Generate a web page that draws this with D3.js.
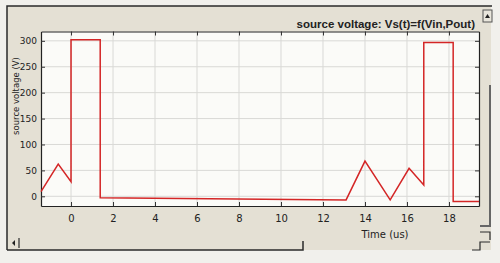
<!DOCTYPE html>
<html><head><meta charset="utf-8">
<script src="https://cdn.jsdelivr.net/npm/d3@7"></script>
<style>html,body{margin:0;padding:0;background:#ecebe6;}svg{display:block;}</style>
</head><body>
<script>
// Data
const timeUs  = [-1.43, -0.61, 0, 0, 1.39, 1.39, 13.1, 14.0, 15.2, 16.1, 16.8, 16.8, 18.2, 18.2, 19.43];
const voltage = [9, 62, 28, 302, 302, -3, -7, 68, -7, 54, 22, 297, 297, -10, -10];
const xTicks = [0, 2, 4, 6, 8, 10, 12, 14, 16, 18];
const yTicks = [0, 50, 100, 150, 200, 250, 300];
const titleText = "source  voltage: Vs(t)=f(Vin,Pout)";
const xLabel = "Time  (us)";
const yLabel = "source voltage  (V)";

(function(){
const W = 500, H = 263;
const svg = d3.select("body").append("svg").attr("width", W).attr("height", H);

// window background
svg.append("rect").attr("width", W).attr("height", H).attr("fill", "#f1f0ec");
svg.append("rect").attr("x", 7).attr("y", 6).attr("width", 484).attr("height", 244).attr("fill", "#e4e0d4");

const pL = 41, pR = 479, pT = 31.5, pB = 206;
const x = d3.scaleLinear().domain([-1.43, 19.43]).range([pL, pR]);
const y = d3.scaleLinear().domain([-18.7, 318]).range([pB, pT]);

// plot area
svg.append("rect").attr("x", pL).attr("y", pT).attr("width", pR - pL).attr("height", pB - pT).attr("fill", "#fbfbf8");

// grid
const g = svg.append("g");
g.selectAll(".vg").data(xTicks).join("line")
  .attr("x1", d => x(d)).attr("x2", d => x(d)).attr("y1", pT).attr("y2", pB)
  .attr("stroke", "#d9d9d6").attr("stroke-width", 1);
g.selectAll(".hg").data(yTicks).join("line")
  .attr("x1", pL).attr("x2", pR).attr("y1", d => y(d)).attr("y2", d => y(d))
  .attr("stroke", "#d9d9d6").attr("stroke-width", 1);

// axes
const axB = d3.axisBottom(x).tickValues(xTicks).tickSizeInner(-4).tickSizeOuter(0).tickPadding(9).tickFormat(d3.format("d"));
const axT = d3.axisTop(x).tickValues(xTicks).tickSizeInner(-4).tickSizeOuter(0).tickFormat("");
const axL = d3.axisLeft(y).tickValues(yTicks).tickSizeInner(-4).tickSizeOuter(0).tickPadding(4).tickFormat(d3.format("d"));
const axR = d3.axisRight(y).tickValues(yTicks).tickSizeInner(-4).tickSizeOuter(0).tickFormat("");

function style(sel, fs){
  sel.selectAll("path").attr("stroke", "#222").attr("stroke-width", 1.2);
  sel.selectAll("line").attr("stroke", "#333");
  sel.selectAll("text").attr("fill", "#222").style("font-family", "DejaVu Sans, sans-serif").style("font-size", fs + "px");
}
style(svg.append("g").attr("transform", `translate(0,${pB})`).call(axB), 10);
style(svg.append("g").attr("transform", `translate(0,${pT})`).call(axT), 10);
style(svg.append("g").attr("transform", `translate(${pL},0)`).call(axL), 9);
style(svg.append("g").attr("transform", `translate(${pR},0)`).call(axR), 10);

// series line
const line = d3.line().x((d, i) => x(timeUs[i])).y((d, i) => y(voltage[i]));
svg.append("path").datum(voltage).attr("d", line)
  .attr("fill", "none").attr("stroke", "#d42626").attr("stroke-width", 1.5).attr("stroke-linejoin", "miter");

// title
svg.append("text").attr("x", 475).attr("y", 28).attr("text-anchor", "end")
  .style("font-family", "Liberation Sans, Arial, sans-serif").style("font-weight", "bold").style("font-size", "11.5px")
  .attr("fill", "#222").text(titleText);

// axis labels
svg.append("text").attr("x", 385).attr("y", 238).attr("text-anchor", "middle")
  .style("font-family", "DejaVu Sans, sans-serif").style("font-size", "10px").attr("fill", "#222").text(xLabel);
svg.append("text").attr("transform", "translate(18.5,96) rotate(-90)").attr("text-anchor", "middle")
  .style("font-family", "DejaVu Sans, sans-serif").style("font-size", "8.5px").attr("fill", "#222").text(yLabel);

// window frame & scrollbars
const fr = svg.append("g").attr("fill", "none").attr("stroke", "#2a2a2a");
fr.append("path").attr("d", "M7,250 L7,6 L492,6").attr("stroke-width", 1.5);
fr.append("path").attr("d", "M7,250 L303,250 L303,241").attr("stroke-width", 1.5);
fr.append("path").attr("d", "M19,238 L19,248").attr("stroke-width", 1.2);
svg.append("path").attr("d", "M12,243 L15,240 L15,246 Z").attr("fill", "#222");
fr.append("path").attr("d", "M490,85 L490,226 L480,226").attr("stroke", "#666").attr("stroke-width", 2);
svg.append("rect").attr("x", 483).attr("y", 10).attr("width", 9).attr("height", 12).attr("fill", "#e9e6dc").attr("stroke", "#555");
svg.append("path").attr("d", "M485,18 L487.5,14 L490,18 Z").attr("fill", "#222");
fr.append("path").attr("d", "M480,232 L490,232 L490,240").attr("stroke-width", 1.2);
fr.append("path").attr("d", "M472,250 L480,250 L480,242 L490,242").attr("stroke-width", 1.2);
})();
</script>
</body></html>
